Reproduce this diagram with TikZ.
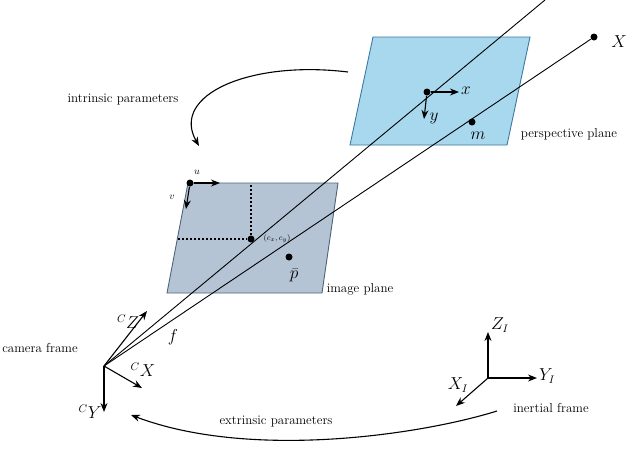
\documentclass[tikz,border=0pt]{standalone}
\usetikzlibrary{arrows.meta}
\definecolor{imgfill}{RGB}{180,196,212}
\definecolor{imgdraw}{RGB}{80,100,120}
\definecolor{perfill}{RGB}{168,216,238}
\definecolor{perdraw}{RGB}{60,120,160}
\begin{document}
\begin{tikzpicture}[x=1pt,y=-1pt,line width=0.9pt,
  arr/.style={-{Stealth[length=9pt,width=7pt]},line width=1.1pt},
  dot/.style={circle,fill=black,inner sep=0pt,minimum size=7pt},
  lbl/.style={font=\fontsize{13}{15}\selectfont},
  mlbl/.style={font=\fontsize{16}{18}\selectfont}]
\useasboundingbox (0,0) rectangle (640,448);
% planes
\draw[fill=perfill,draw=perdraw] (373,37) -- (530,37) -- (507,145) -- (350,145) -- cycle;
\draw[fill=imgfill,draw=imgdraw] (188,183) -- (338,183) -- (322,293) -- (167,293) -- cycle;
% points
\coordinate (O) at (104,366);
\node[dot] (c) at (251,239) {};
\node[dot] (xo) at (427,92) {};
\coordinate (e1) at (545,0);
\node[dot] (p) at (289,257) {};
\node[dot] (m) at (472,122) {};
\node[dot] (X) at (594,37) {};
\draw (O) -- (e1);
\draw (O) -- (X);
\draw[dotted,line width=2pt] (178,239) -- (c);
\draw[dotted,line width=2pt] (251,185) -- (c);
% uv frame
\node[dot] (uvo) at (190,183) {};
\coordinate (ua) at (220,183);
\coordinate (va) at (186,209);
\draw[arr] (uvo) -- (ua);
\draw[arr] (uvo) -- (va);
\node[font=\normalsize] (ul) at (197,172) {$u$};
\node[font=\normalsize] (vl) at (172,197) {$v$};
% xy frame
\coordinate (xa) at (459,92);
\coordinate (ya) at (424,119);
\draw[arr] (xo) -- (xa);
\draw[arr] (xo) -- (ya);
\node[mlbl] (xl) at (466,91) {$x$};
\node[mlbl] (yl) at (434,118) {$y$};
% labels
\node[font=\footnotesize] (cl) at (277,239) {$(c_x,c_y)$};
\node[mlbl] (pl) at (294,275) {$\bar{p}$};
\node[mlbl] (ml) at (478,136) {$m$};
\node[mlbl] (Xl) at (619,42) {$X$};
\node[lbl] (ppl) at (569,134) {perspective plane};
\node[lbl] (ipl) at (360,289) {image plane};
\node[lbl] (intr) at (123,100) {intrinsic parameters};
\coordinate (ia) at (348,72);
\coordinate (ib) at (199,146);
\draw[arr] (ia) .. controls (250,60) and (170,95) .. (ib);
% camera frame
\coordinate (cz) at (147,311);
\coordinate (cx) at (142,388);
\coordinate (cy) at (104,412);
\draw[arr] (O) -- (cz);
\draw[arr] (O) -- (cx);
\draw[arr] (O) -- (cy);
\node[lbl] (camf) at (40,348) {camera frame};
\node[mlbl] (czl) at (128,322) {${}^{C}Z$};
\node[mlbl] (cxl) at (143,370) {${}^{C}X$};
\node[mlbl] (cyl) at (90,412) {${}^{C}Y$};
\node[mlbl] (fl) at (173,337) {$f$};
% inertial frame
\coordinate (I) at (488,378);
\coordinate (iz) at (488,332);
\coordinate (iy) at (537,378);
\coordinate (ix) at (456,406);
\draw[arr] (I) -- (iz);
\draw[arr] (I) -- (iy);
\draw[arr] (I) -- (ix);
\node[mlbl] (izl) at (500,325) {$Z_I$};
\node[mlbl] (iyl) at (547,376) {$Y_I$};
\node[mlbl] (ixl) at (458,385) {$X_I$};
\node[lbl] (inf) at (551,408) {inertial frame};
\node[lbl] (ext) at (276,422) {extrinsic parameters};
\coordinate (ea) at (497,411);
\coordinate (eb) at (131,415);
\draw[arr] (ea) .. controls (420,435) and (250,460) .. (eb);
\end{tikzpicture}
\end{document}
